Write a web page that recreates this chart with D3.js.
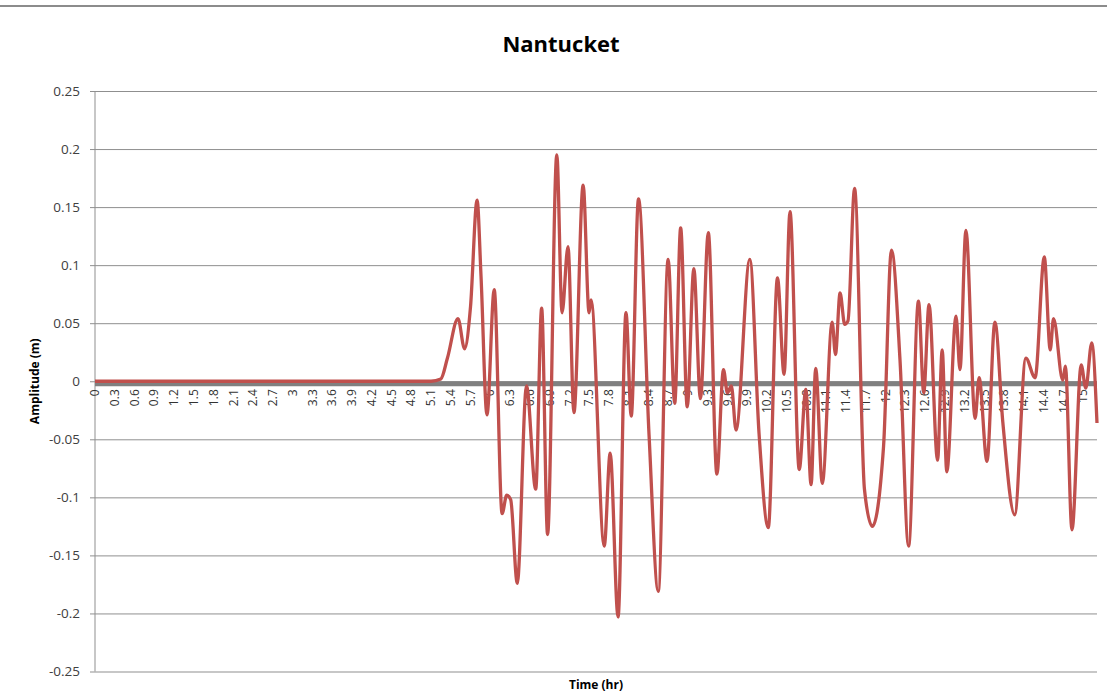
<!DOCTYPE html>
<html>
<head>
<meta charset="utf-8">
<script src="https://cdn.jsdelivr.net/npm/d3@7"></script>
<style>
  body { margin: 0; background: #fff; }
  svg { display: block; }
</style>
</head>
<body>
<div id="chart"></div>
<script>
// Tsunami record: time (hr) and amplitude (m) at turning points
const times = [0, 5.1, 5.25, 5.35, 5.51, 5.61, 5.70, 5.80, 5.86, 5.95,
    6.06, 6.18, 6.25, 6.31, 6.41, 6.55, 6.69, 6.78, 6.87, 7.01,
    7.09, 7.18, 7.27, 7.41, 7.50, 7.53, 7.73, 7.82, 7.94, 8.06,
    8.14, 8.25, 8.41, 8.55, 8.70, 8.80, 8.89, 8.99, 9.09, 9.19,
    9.31, 9.44, 9.54, 9.60, 9.66, 9.73, 9.94, 10.08, 10.22, 10.36,
    10.46, 10.55, 10.69, 10.79, 10.87, 10.94, 11.04, 11.19, 11.24, 11.31,
    11.38, 11.43, 11.53, 11.68, 11.80, 11.97, 12.09, 12.22, 12.35, 12.50,
    12.58, 12.66, 12.79, 12.86, 12.93, 13.07, 13.13, 13.22, 13.36, 13.42,
    13.54, 13.66, 13.78, 13.96, 14.13, 14.27, 14.41, 14.50, 14.55, 14.69,
    14.73, 14.83, 14.97, 15.04, 15.13, 15.21];

const amplitude = [0, 0, 0.002, 0.02, 0.054, 0.028, 0.064, 0.156, 0.09, -0.029,
    0.079, -0.114, -0.098, -0.102, -0.174, -0.004, -0.093, 0.063, -0.132, 0.195,
    0.059, 0.116, -0.027, 0.169, 0.059, 0.070, -0.142, -0.062, -0.203, 0.059,
    -0.030, 0.157, -0.046, -0.181, 0.105, -0.019, 0.132, -0.022, 0.097, -0.015,
    0.128, -0.080, 0.010, -0.010, -0.004, -0.042, 0.105, -0.045, -0.126, 0.089,
    0.006, 0.146, -0.076, -0.007, -0.089, 0.011, -0.088, 0.051, 0.023, 0.076,
    0.049, 0.052, 0.166, -0.093, -0.125, -0.056, 0.113, 0.018, -0.142, 0.069,
    -0.010, 0.066, -0.068, 0.027, -0.078, 0.056, 0.010, 0.130, -0.032, 0.003,
    -0.069, 0.051, -0.035, -0.115, 0.020, 0.003, 0.107, 0.027, 0.054, 0.001,
    0.013, -0.128, 0.014, -0.006, 0.033, -0.036];

const xTickLabels = ["0", "0.3", "0.6", "0.9", "1.2", "1.5", "1.8", "2.1", "2.4", "2.7",
    "3", "3.3", "3.6", "3.9", "4.2", "4.5", "4.8", "5.1", "5.4", "5.7",
    "6", "6.3", "6.6", "6.9", "7.2", "7.5", "7.8", "8.1", "8.4", "8.7",
    "9", "9.3", "9.6", "9.9", "10.2", "10.5", "10.8", "11.1", "11.4", "11.7",
    "12", "12.3", "12.6", "12.9", "13.2", "13.5", "13.8", "14.1", "14.4", "14.7", "15"];

const yTicks = [-0.25, -0.2, -0.15, -0.1, -0.05, 0, 0.05, 0.1, 0.15, 0.2, 0.25];

const width = 1107, height = 693;
const margin = { top: 91, right: 10, bottom: 21, left: 95 };
const font = '"Open Sans", "Liberation Sans", Arial, sans-serif';

const svg = d3.select('#chart')
    .append('svg')
    .attr('width', width)
    .attr('height', height);

// thin rule along the top of the page
svg.append('line')
    .attr('x1', 0).attr('x2', width)
    .attr('y1', 6).attr('y2', 6)
    .attr('stroke', '#8c8c8c')
    .attr('stroke-width', 2);

const x = d3.scaleLinear()
    .domain([0, d3.max(times)])
    .range([margin.left, width - margin.right]);

const y = d3.scaleLinear()
    .domain([-0.25, 0.25])
    .range([height - margin.bottom - 0.5, margin.top]);

// horizontal gridlines with small outside ticks
const yAxis = d3.axisLeft(y)
    .tickValues(yTicks)
    .tickSize(-(width - margin.right - margin.left) - 5)
    .tickPadding(10)
    .tickFormat(d => String(+d.toFixed(2)));  // plain hyphen minus, like Excel

const gy = svg.append('g')
    .attr('transform', `translate(${margin.left - 5},0)`)
    .call(yAxis);

gy.select('.domain').remove();
gy.selectAll('.tick line')
    .attr('stroke', '#8f8f8f')
    .attr('stroke-width', 1);
gy.selectAll('.tick text')
    .attr('fill', '#404040')
    .style('font-family', font)
    .style('font-size', '13.5px')
    .attr('x', -10);

// vertical axis line
svg.append('line')
    .attr('x1', margin.left).attr('x2', margin.left)
    .attr('y1', margin.top).attr('y2', y(-0.25))
    .attr('stroke', '#8f8f8f')
    .attr('stroke-width', 1);

// thick category axis along zero
svg.append('line')
    .attr('x1', margin.left).attr('x2', width - margin.right)
    .attr('y1', y(0) + 2.5).attr('y2', y(0) + 2.5)
    .attr('stroke', '#808080')
    .attr('stroke-width', 5);

// rotated time labels every 0.3 hr
svg.append('g')
    .selectAll('text')
    .data(xTickLabels)
    .enter()
    .append('text')
    .attr('transform', d => `translate(${x(+d)},${y(0) + 8}) rotate(-90)`)
    .attr('text-anchor', 'end')
    .attr('dy', '0.35em')
    .attr('fill', '#333')
    .style('font-family', font)
    .style('font-size', '12px')
    .text(d => d);

// the record itself
const points = times.map((t, i) => [t, amplitude[i]]);
const line = d3.line()
    .x(d => x(d[0]))
    .y(d => y(d[1]))
    .curve(d3.curveMonotoneX);

svg.append('path')
    .datum(points)
    .attr('fill', 'none')
    .attr('stroke', '#c0504d')
    .attr('stroke-width', 3.3)
    .attr('stroke-linejoin', 'round')
    .attr('d', line);

// titles
svg.append('text')
    .attr('x', 561).attr('y', 52)
    .attr('text-anchor', 'middle')
    .style('font-family', font)
    .style('font-weight', 'bold')
    .style('font-size', '22px')
    .attr('fill', '#000')
    .text('Nantucket');

svg.append('text')
    .attr('transform', `translate(39,${y(0)}) rotate(-90)`)
    .attr('text-anchor', 'middle')
    .style('font-family', font)
    .style('font-weight', 'bold')
    .style('font-size', '12px')
    .attr('fill', '#000')
    .text('Amplitude (m)');

svg.append('text')
    .attr('x', (margin.left + width - margin.right) / 2)
    .attr('y', 689)
    .attr('text-anchor', 'middle')
    .style('font-family', font)
    .style('font-weight', 'bold')
    .style('font-size', '12px')
    .attr('fill', '#000')
    .text('Time (hr)');
</script>
</body>
</html>
